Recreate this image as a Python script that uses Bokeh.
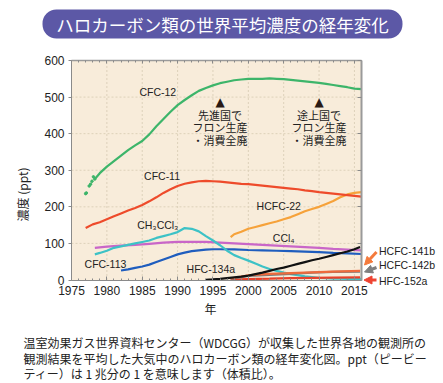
from bokeh.plotting import figure
from bokeh.models import (Label, Arrow, NormalHead, LinearAxis, Range1d,
                          FixedTicker, BoxAnnotation)
from bokeh.embed import file_html
from bokeh.resources import INLINE

# ---------------- data (ppt) ----------------
cfc12_dot_years = [1977.0, 1977.1, 1977.5, 1977.7, 1977.9, 1978.1, 1978.3]
cfc12_dot_vals = [236, 238, 257, 262, 270, 282, 276]
cfc12_years = [1978.3, 1979, 1980, 1981, 1982, 1983, 1984, 1985, 1986, 1987, 1988,
               1989, 1990, 1991, 1992, 1993, 1994, 1995, 1996, 1997, 1998, 1999,
               2000, 2001, 2002, 2003, 2004, 2005, 2006, 2007, 2008, 2009, 2010,
               2011, 2012, 2013, 2014, 2015, 2016]
cfc12_vals = [276, 292, 310, 325, 340, 355, 368, 380, 398, 420, 440,
              460, 478, 492, 505, 517, 525, 532, 538, 542, 546, 548,
              550, 550, 550, 551, 550, 549, 547, 545, 543, 541, 539,
              536, 533, 530, 527, 523, 522]

cfc11_years = [1977, 1978, 1979, 1980, 1981, 1982, 1983, 1984, 1985, 1986, 1987,
               1988, 1989, 1990, 1991, 1992, 1993, 1994, 1995, 1996, 1997, 1998,
               1999, 2000, 2001, 2002, 2003, 2004, 2005, 2006, 2007, 2008, 2009,
               2010, 2011, 2012, 2013, 2014, 2015, 2016]
cfc11_vals = [142, 152, 158, 166, 174, 182, 190, 197, 205, 215, 226,
              238, 248, 257, 263, 267, 270, 271, 270, 269, 267, 265,
              263, 262, 260, 258, 256, 254, 252, 250, 248, 245, 243,
              240, 238, 236, 234, 232, 230, 228]

hcfc22_years = [1997.5, 1998, 1999, 2000, 2001, 2002, 2003, 2004, 2005, 2006,
                2007, 2008, 2009, 2010, 2011, 2012, 2013, 2014, 2015, 2016]
hcfc22_vals = [117, 125, 132, 140, 145, 150, 155, 160, 166, 172,
               180, 188, 194, 200, 208, 216, 226, 234, 238, 240]

ch3ccl3_years = [1978.3, 1979, 1980, 1981, 1982, 1983, 1984, 1985, 1986, 1987,
                 1988, 1989, 1990, 1991, 1992, 1993, 1994, 1995, 1996, 1997,
                 1998, 1999, 2000, 2001, 2002, 2003, 2004, 2005, 2006, 2007,
                 2008, 2009, 2010, 2011, 2012, 2013, 2014, 2015, 2016]
ch3ccl3_vals = [70, 74, 80, 88, 92, 96, 100, 104, 108, 115,
                120, 125, 131, 142, 140, 133, 120, 108, 95, 80,
                68, 60, 53, 45, 37, 30, 25, 20, 16, 13,
                10, 8, 6, 5, 4, 4, 3, 3, 3]

ccl4_years = [1978.3, 1980, 1982, 1984, 1986, 1988, 1990, 1992, 1994, 1996,
              1998, 2000, 2002, 2004, 2006, 2008, 2010, 2012, 2014, 2016]
ccl4_vals = [88, 91, 94, 96, 99, 102, 104, 104.5, 104, 102,
             100, 98, 96, 94, 92, 90, 88, 85, 83, 81]

cfc113_years = [1982, 1983, 1984, 1985, 1986, 1987, 1988, 1989, 1990, 1991,
                1992, 1993, 1994, 1995, 1996, 1998, 2000, 2002, 2004, 2006,
                2008, 2010, 2012, 2014, 2016]
cfc113_vals = [26, 29, 33, 37, 42, 49, 56, 63, 70, 75,
               79, 81, 83, 84, 84, 83.5, 82, 81, 80, 79,
               77.5, 76, 74, 73, 71]

hfc134a_years = [1994, 1995, 1996, 1997, 1998, 1999, 2000, 2001, 2002, 2003,
                 2004, 2005, 2006, 2007, 2008, 2009, 2010, 2011, 2012, 2013,
                 2014, 2015, 2015.8]
hfc134a_vals = [0.5, 1.5, 3, 5, 7, 9, 12, 16, 20, 25,
                30, 34, 39, 44, 49, 54, 58, 63, 68, 73,
                78, 84, 90]

hcfc141b_years = [1997.5, 2000, 2003, 2006, 2009, 2012, 2015.8]
hcfc141b_vals = [4, 13, 17, 19, 21, 23, 25]
hcfc142b_years = [1997.5, 2000, 2003, 2006, 2009, 2012, 2015.8]
hcfc142b_vals = [3, 11, 14, 17, 20, 22, 23]
hfc152a_years = [1997.5, 2000, 2003, 2006, 2009, 2012, 2015.8]
hfc152a_vals = [1, 2.5, 3.5, 5, 6, 6.5, 7]

year_ticks = [1975, 1980, 1985, 1990, 1995, 2000, 2005, 2010, 2015]
year_minor = list(range(1975, 2017))
value_ticks = [0, 100, 200, 300, 400, 500, 600]
X0, X1 = 1975, 2016   # plotted year span
Y0, Y1 = 0, 600       # plotted value span

# ---------------- layout (canvas pixels) ----------------
W, H = 443, 383
PL, PR, PT, PB = 71, 361, 60, 279.5   # plot area edges in canvas px
xs = (X1 - X0) / (PR - PL)            # years per px
ys = (Y1 - Y0) / (PB - PT)            # ppt per px


def sx(px):
    return px


def sy(py):
    return H - py


p = figure(frame_width=W, frame_height=H,
           x_range=Range1d(X0 - PL * xs, X0 + (W - PL) * xs),
           y_range=Range1d(Y0 - (H - PB) * ys, Y0 + PB * ys),
           output_backend="svg", toolbar_location=None,
           min_border_left=0, min_border_right=0, min_border_top=0,
           min_border_bottom=0, min_border=0)
try:
    p.title = None
except Exception:
    p.title.visible = False
p.border_fill_color = "white"
p.background_fill_color = "white"
p.outline_line_color = None
p.grid.visible = False

JP = "Noto Sans CJK JP"
LAT = "Liberation Sans"
AX = "#8A8A8A"

# plot-area background and dashed grid
p.quad(left=[X0], right=[X1], bottom=[Y0], top=[Y1], fill_color="#F8ECDA",
       line_color=None)
gx = year_ticks[1:]
p.segment(x0=gx, y0=[Y0] * len(gx), x1=gx, y1=[Y1] * len(gx),
          line_color="#DDD1BA", line_dash="2 2", line_width=1)
gy = value_ticks[1:-1]
p.segment(x0=[X0] * len(gy), y0=gy, x1=[X1] * len(gy), y1=gy,
          line_color="#DDD1BA", line_dash="2 2", line_width=1)

# axes, fixed at the plot-area edges
p.xaxis.fixed_location = Y0
p.xaxis.bounds = (X0, X1)
p.yaxis.fixed_location = X0
p.yaxis.bounds = (Y0, Y1)
p.xaxis.ticker = FixedTicker(ticks=year_ticks, minor_ticks=year_minor)
p.yaxis.ticker = FixedTicker(ticks=value_ticks, minor_ticks=[])
for ax in (p.xaxis, p.yaxis):
    ax.axis_line_color = AX
    ax.major_tick_line_color = AX
    ax.minor_tick_line_color = AX
    ax.major_label_text_font = LAT
    ax.major_label_text_font_size = "12px"
    ax.major_label_text_color = "#222222"
p.xaxis.major_tick_in = 4
p.xaxis.major_tick_out = 0
p.xaxis.minor_tick_in = 2
p.xaxis.minor_tick_out = 0
p.xaxis.major_label_standoff = 6
p.yaxis.major_tick_in = 0
p.yaxis.major_tick_out = 3
p.yaxis.major_label_standoff = 4

# top edge of the plot area (placed in the lower panel, ticks pointing down)
top = LinearAxis(ticker=FixedTicker(ticks=year_ticks, minor_ticks=year_minor),
                 fixed_location=Y1, bounds=(X0, X1),
                 major_label_text_alpha=0, major_label_text_font_size="1px",
                 axis_line_color="#9A9A9A", axis_line_width=1.5,
                 major_tick_in=0, major_tick_out=3,
                 minor_tick_in=0, minor_tick_out=2,
                 major_tick_line_color=AX, minor_tick_line_color=AX)
p.add_layout(top, "below")
right = LinearAxis(ticker=FixedTicker(ticks=value_ticks, minor_ticks=[]),
                   fixed_location=X1, bounds=(Y0, Y1),
                   major_label_text_alpha=0, major_label_text_font_size="1px",
                   axis_line_color="#9A9A9A", axis_line_width=2,
                   major_tick_in=4, major_tick_out=0,
                   major_tick_line_color=AX)
p.add_layout(right, "right")

# ---------------- series ----------------
LW = 2.2
p.line(ccl4_years, ccl4_vals, line_color="#C966C8", line_width=LW)
p.line(cfc113_years, cfc113_vals, line_color="#1F5DBE", line_width=LW)
p.line(ch3ccl3_years, ch3ccl3_vals, line_color="#3DC2C6", line_width=LW)
p.line(hfc152a_years, hfc152a_vals, line_color="#E8402A", line_width=LW)
p.line(hcfc142b_years, hcfc142b_vals, line_color="#7A7A7A", line_width=LW)
p.line(hcfc141b_years, hcfc141b_vals, line_color="#EE6A3C", line_width=LW)
p.line(hfc134a_years, hfc134a_vals, line_color="#111111", line_width=LW)
p.line(hcfc22_years, hcfc22_vals, line_color="#F6A23A", line_width=LW)
p.line(cfc11_years, cfc11_vals, line_color="#EE4B2B", line_width=LW)
p.line(cfc12_years, cfc12_vals, line_color="#3DB56A", line_width=LW)
p.scatter(cfc12_dot_years, cfc12_dot_vals, size=2.5, color="#3DB56A")


# ---------------- in-plot labels ----------------
def lab(x, y, text, size="10.5px", font=LAT, align="center", color="#222222", **kw):
    p.add_layout(Label(x=x, y=y, text=text, text_font=font, text_font_size=size,
                       text_align=align, text_baseline="middle", text_color=color, **kw))


lab(1987.2, 513, "CFC-12")
lab(1987.8, 283, "CFC-11")
lab(2004.3, 201, "HCFC-22")
lab(2005.0, 116, "CCl₄")
lab(1987.2, 150, "CH₃CCl₃")
lab(1979.8, 44, "CFC-113")
lab(1994.7, 29, "HFC-134a")

# phase-out annotations
for yr, lines in [(1996, ["先進国で", "フロン生産", "・消費全廃"]),
                  (2010, ["途上国で", "フロン生産", "・消費全廃"])]:
    lab(yr, 486, "▲", size="12px", font="DejaVu Sans", color="#2A1A14")
    for i, t in enumerate(lines):
        lab(yr, 452 - i * 35, t, size="11px", font=JP)


# ---------------- outside labels (screen units, canvas px) ----------------
def slab(px, py, text, size, font=LAT, align="left", color="#222222", **kw):
    p.add_layout(Label(x=sx(px), y=sy(py), x_units="screen", y_units="screen",
                       text=text, text_font=font, text_font_size=size,
                       text_align=align, text_baseline="middle",
                       text_color=color, **kw))


slab(378.5, 250, "HCFC-141b", "10.5px")
slab(378.5, 264.5, "HCFC-142b", "10.5px")
slab(378.5, 280, "HFC-152a", "10.5px")

for (x0, y0, x1, y1, c) in [(376, 251.5, 364, 264.5, "#F47A3C"),
                            (376, 267, 364, 271.5, "#7F7F7F"),
                            (376, 279.5, 363.5, 279.5, "#EE4433")]:
    p.add_layout(Arrow(x_start=sx(x0), y_start=sy(y0), x_end=sx(x1), y_end=sy(y1),
                       start_units="screen", end_units="screen",
                       line_color=c, line_width=3,
                       end=NormalHead(size=8, fill_color=c, line_color=c)))

# axis titles
slab(22, 194, "濃度 (ppt)", "12px", font=JP, align="center", angle=1.5708)
slab(210, 308, "年", "12px", font=JP, align="center")

# title banner
p.add_layout(BoxAnnotation(left=sx(42), right=sx(402), top=sy(9), bottom=sy(38),
                           left_units="screen", right_units="screen",
                           top_units="screen", bottom_units="screen",
                           fill_color="#5C58A6", fill_alpha=1, line_color=None,
                           border_radius=14))
slab(222, 23.5, "ハロカーボン類の世界平均濃度の経年変化", "17.5px", font=JP,
     align="center", color="white")

# caption
cap = ["温室効果ガス世界資料センター（WDCGG）が収集した世界各地の観測所の",
       "観測結果を平均した大気中のハロカーボン類の経年変化図。ppt（ピービー",
       "ティー）は 1 兆分の 1 を意味します（体積比）。"]
for i, t in enumerate(cap):
    slab(23, 342 + i * 15.5, t, "12px", font=JP)

open("out.html", "w").write(file_html(p, INLINE))
